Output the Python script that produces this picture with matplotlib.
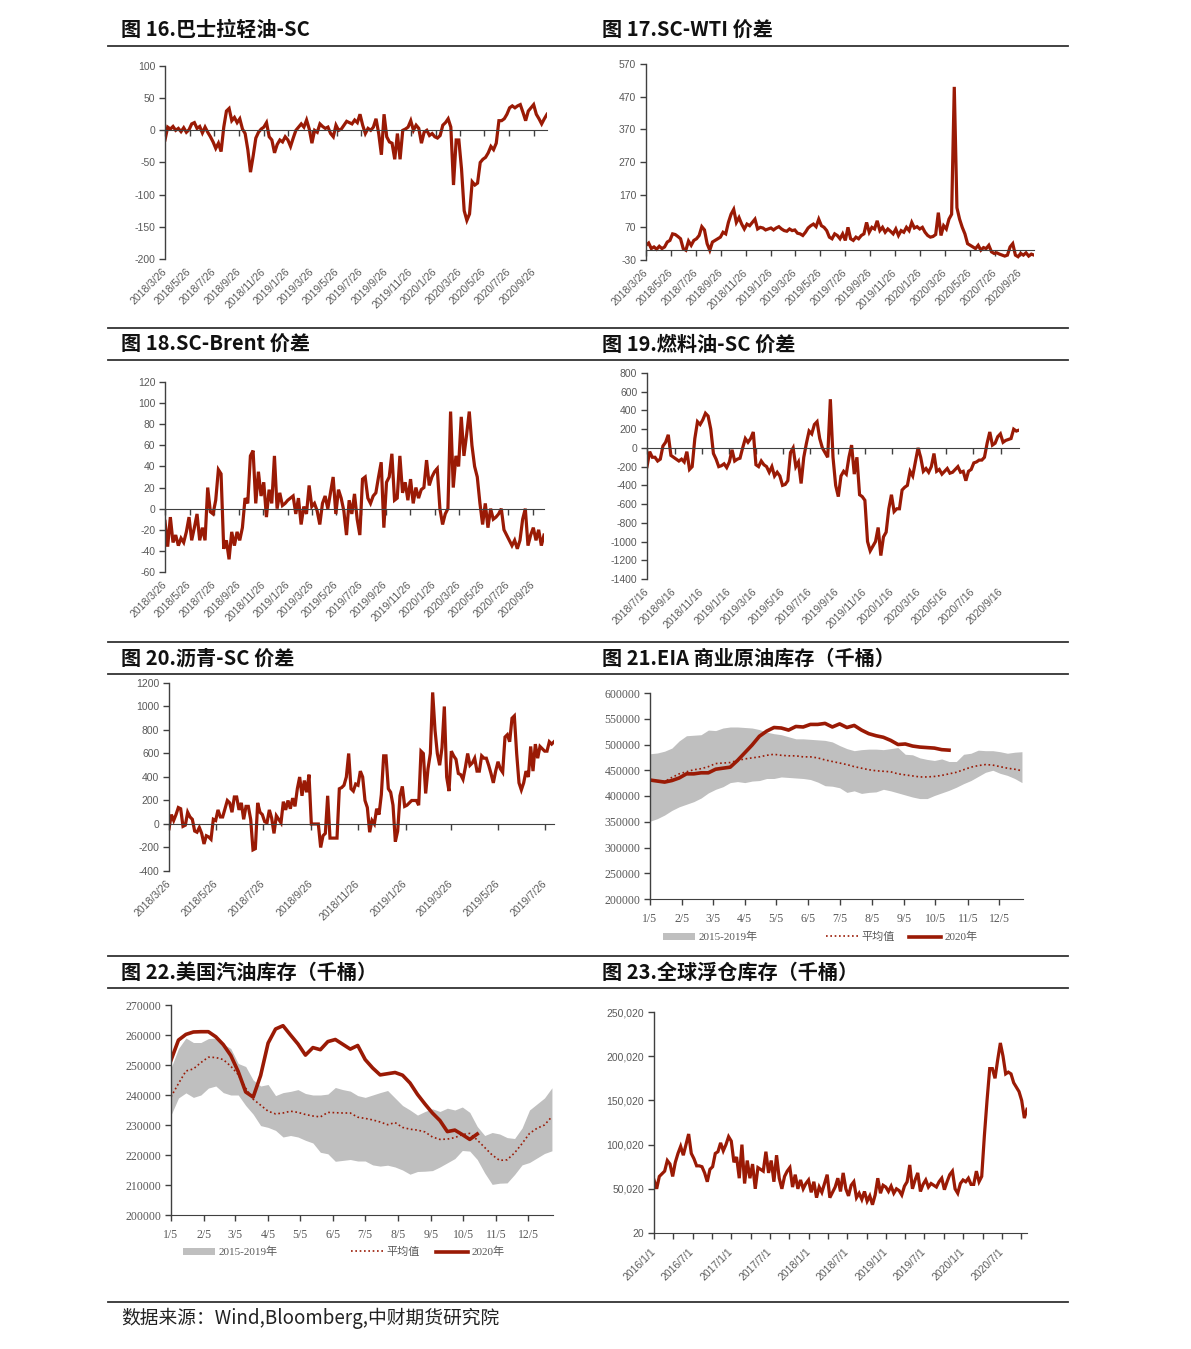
import numpy as np
import matplotlib
matplotlib.use('Agg')
import matplotlib.pyplot as plt
from matplotlib.lines import Line2D
from matplotlib.patches import Patch
from matplotlib.ticker import FuncFormatter
from datetime import datetime

W, H = 1191, 1349
RED = '#9A1A05'
GRAYBAND = '#BFBFBF'
AXC = '#404040'
LBC = '#595959'
SANS = ['Liberation Sans', 'Noto Sans CJK SC']
SERIF = ['Liberation Serif', 'Noto Sans CJK SC']
CJK = ['Noto Sans CJK SC', 'DejaVu Sans']
plt.rcParams['font.family'] = SANS
plt.rcParams['axes.unicode_minus'] = False

# ---------------- data ----------------
titles = ['图 16.巴士拉轻油-SC', '图 17.SC-WTI 价差', '图 18.SC-Brent 价差', '图 19.燃料油-SC 价差',
          '图 20.沥青-SC 价差', '图 21.EIA 商业原油库存（千桶）', '图 22.美国汽油库存（千桶）',
          '图 23.全球浮仓库存（千桶）']
source_note = '数据来源：Wind,Bloomberg,中财期货研究院'

labels_2018_03 = ['2018/3/26', '2018/5/26', '2018/7/26', '2018/9/26', '2018/11/26', '2019/1/26',
                  '2019/3/26', '2019/5/26', '2019/7/26', '2019/9/26', '2019/11/26', '2020/1/26',
                  '2020/3/26', '2020/5/26', '2020/7/26', '2020/9/26']
labels_2018_07 = ['2018/7/16', '2018/9/16', '2018/11/16', '2019/1/16', '2019/3/16', '2019/5/16',
                  '2019/7/16', '2019/9/16', '2019/11/16', '2020/1/16', '2020/3/16', '2020/5/16',
                  '2020/7/16', '2020/9/16']
labels_bitumen = ['2018/3/26', '2018/5/26', '2018/7/26', '2018/9/26', '2018/11/26', '2019/1/26',
                  '2019/3/26', '2019/5/26', '2019/7/26']
labels_float = ['2016/1/1', '2016/7/1', '2017/1/1', '2017/7/1', '2018/1/1', '2018/7/1',
                '2019/1/1', '2019/7/1', '2020/1/1', '2020/7/1']
minor_float = ['2016/4/1', '2016/10/1', '2017/4/1', '2017/10/1', '2018/4/1', '2018/10/1',
               '2019/4/1', '2019/10/1', '2020/4/1', '2020/10/1']
month_labels = ['1/5', '2/5', '3/5', '4/5', '5/5', '6/5', '7/5', '8/5', '9/5', '10/5', '11/5', '12/5']
legend_labels = ['2015-2019年', '平均值', '2020年']

basra_sc = [-15, 5, 2, 6, 0, 3, -2, 4, -3, 1, 10, 12, 3, 6, -4, 5, -3, -10, -18, -28, -20, -33, 5, 30,
            34, 15, 20, 12, 18, 2, -5, -30, -65, -40, -12, -3, 2, 5, 12, -10, -15, -35, -22, -15, -18,
            -10, -15, -25, -12, 0, 5, 10, 5, 16, 2, -20, 0, -3, 10, 6, 3, 5, -5, -10, 8, 0, 2, 8, 14,
            12, 10, 16, 12, 25, 8, -5, 3, 0, 5, 18, -5, -38, 25, -10, -18, -20, -45, -5, -45, 0, 2, 5,
            15, 0, 8, 3, -20, -3, 0, -8, -5, -10, -12, -8, 8, 12, 18, 5, -85, -15, -15, -60, -125,
            -140, -130, -80, -85, -82, -50, -45, -42, -35, -25, -30, -20, 15, 15, 18, 25, 35, 38, 35,
            38, 40, 28, 15, 30, 35, 40, 25, 18, 10, 18, 25]
sc_wti = [15, 22, 5, 10, 3, 12, 5, 10, 25, 30, 50, 48, 42, 35, 5, 0, 28, 15, 30, 35, 45, 72, 62, 20, 0,
          25, 30, 35, 40, 55, 50, 85, 110, 125, 85, 100, 80, 65, 80, 75, 85, 95, 65, 70, 68, 62, 65, 68,
          62, 68, 72, 65, 60, 58, 65, 60, 62, 52, 50, 45, 55, 68, 75, 80, 72, 95, 75, 70, 60, 40, 35, 50,
          45, 35, 50, 30, 70, 35, 30, 40, 35, 45, 50, 85, 55, 70, 65, 90, 60, 70, 55, 65, 58, 50, 65, 45,
          60, 55, 70, 60, 85, 68, 72, 65, 70, 55, 45, 40, 42, 48, 115, 45, 75, 65, 95, 110, 500, 130, 95,
          70, 50, 20, 15, 10, 5, 15, 0, 8, 5, 15, -5, -10, -8, -12, -15, -18, -15, 10, 20, -15, -20, -10,
          -15, -8, -18, -12, -15]
sc_brent = [-12, -36, -8, -32, -25, -35, -28, -32, -22, -8, -30, -18, -5, -30, -18, -30, 20, -3, -5, 8,
            37, 33, -38, -30, -48, -22, -35, -22, -30, -18, 10, 5, 50, 55, 5, 35, 12, 25, -8, 18, 5, 50,
            0, 15, 3, 5, 8, 10, 12, -5, 10, -15, 2, -5, 22, 2, 5, -2, -15, 5, 12, 0, 15, 30, -5, 18, 10,
            -2, -25, 8, -5, 14, -10, -25, 28, 30, 10, 5, 12, 15, 30, 44, -18, 25, 30, 52, 8, 10, 50, 15,
            25, 8, 28, 5, 20, 10, 18, 20, 46, 22, 30, 35, 38, 0, -15, -5, 0, 92, 20, 50, 40, 87, 50, 70,
            92, 60, 40, 30, 5, -15, 5, -18, 0, -10, -8, -5, 0, -20, -25, -30, -35, -30, -38, -30, -10,
            0, -35, -25, -18, -30, -20, -35, -25]
fo_sc = [-200, -40, -100, -100, -140, -120, 20, 60, 140, -80, -100, -120, -140, -120, -150, -40, -230,
         -200, 100, 280, 250, 300, 370, 340, 200, -60, -120, -200, -190, -170, -210, -150, -20, -140,
         -120, -110, 0, 100, 60, 100, 170, -180, -200, -140, -180, -200, -260, -200, -300, -260, -300,
         -400, -390, -350, -50, 0, -200, -150, -380, -100, 50, 180, 150, 250, 280, 100, 0, -50, -100,
         520, -100, -400, -520, -300, -250, -280, -100, 30, -280, -100, -500, -520, -560, -1000, -1100,
         -1050, -1000, -850, -1150, -950, -900, -650, -500, -680, -650, -650, -450, -420, -400, -250,
         -300, -150, 0, -100, -250, -220, -260, -200, -60, -250, -230, -280, -250, -220, -270, -260,
         -230, -200, -260, -250, -350, -250, -230, -160, -150, -130, -130, -100, 50, 170, 30, 50, 120,
         150, 60, 80, 90, 100, 200, 180, 190]
bit_sc = [-40, 80, 30, 80, 140, 130, -20, -10, 100, 60, 40, -60, -70, -30, -80, -170, -100, -110, -130,
          40, 30, 120, 60, 60, 130, 200, 180, 100, 230, 230, 120, 180, 40, 150, 150, 40, -220, -210, 180,
          100, 80, 20, 10, 120, 50, -80, 70, 40, 10, 190, 120, 200, 130, 220, 150, 300, 400, 240, 370,
          270, 420, 0, 0, 0, 0, -200, -100, -80, 240, -120, -120, -120, -120, 300, 310, 330, 400, 600,
          300, 280, 340, 330, 450, 400, 200, 140, -70, 30, 0, 130, 80, 250, 580, 580, 300, 270, 160,
          -150, -60, 240, 320, 150, 160, 180, 200, 200, 200, 160, 620, 600, 260, 470, 600, 1120, 800,
          600, 500, 650, 1000, 400, 280, 620, 580, 550, 430, 420, 380, 480, 600, 500, 520, 560, 450, 450,
          580, 560, 560, 500, 430, 350, 450, 530, 470, 440, 740, 760, 700, 900, 920, 600, 350, 290, 350,
          450, 400, 660, 450, 680, 560, 660, 640, 620, 620, 700, 680, 700]
eia_upper = [482000, 483500, 487000, 493000, 507000, 517000, 518000, 519000, 528000, 527000, 532000,
             534000, 534000, 533000, 532000, 529000, 524000, 521000, 519000, 515000, 511000, 511000,
             510000, 509000, 508000, 505000, 498000, 492000, 488000, 490000, 491000, 491000, 490000,
             492000, 494000, 481000, 480000, 474000, 471000, 469000, 472000, 467000, 467000, 481000,
             483000, 489000, 488000, 488000, 486000, 483000, 485000, 486000]
eia_lower = [351000, 356000, 363000, 372000, 379000, 384000, 389000, 396000, 406000, 413000, 418000,
             426000, 428000, 426000, 429000, 430000, 434000, 434000, 437000, 436000, 435000, 434000,
             432000, 427000, 420000, 419000, 416000, 407000, 410000, 405000, 407000, 408000, 413000,
             410000, 406000, 402000, 398000, 395000, 395000, 401000, 406000, 411000, 417000, 424000,
             430000, 438000, 446000, 450000, 444000, 440000, 434000, 426000]
eia_avg = [431000, 430000, 428000, 436000, 443000, 447000, 451000, 453000, 457000, 463000, 464000,
           465000, 469000, 472000, 474000, 476000, 479000, 481000, 479000, 478000, 478000, 476000,
           476000, 474000, 470000, 467000, 464000, 461000, 457000, 454000, 451000, 449000, 448000,
           447000, 443000, 441000, 439000, 437000, 437000, 438000, 440000, 443000, 446000, 451000,
           456000, 459000, 461000, 460000, 457000, 454000, 452000, 449000]
eia_2020 = [431000, 429000, 427000, 430000, 435000, 443000, 443000, 445000, 445000, 452000, 454000,
            456000, 469000, 484000, 499000, 516000, 526000, 533000, 532000, 528000, 535000, 534000,
            539000, 539000, 541000, 534000, 540000, 533000, 537000, 528000, 521000, 517000, 514000,
            508000, 500000, 501000, 497000, 495000, 494000, 493000, 490000, 489000]
gas_upper = [249000, 255500, 259000, 257500, 257500, 258800, 259000, 257000, 255500, 250500, 249500,
             245000, 243000, 243500, 239800, 240800, 241200, 241800, 240500, 240000, 240000, 240300,
             242500, 241800, 241300, 239800, 239200, 240000, 240800, 241500, 239000, 236500, 235000,
             233300, 234500, 235400, 234500, 235600, 235000, 236000, 234200, 229500, 226500, 227500,
             227000, 225800, 225500, 229000, 235000, 237000, 239000, 242400]
gas_lower = [233300, 239000, 240700, 239200, 240000, 242300, 243000, 240800, 240000, 240000, 236500,
             233600, 229800, 229200, 228200, 226000, 226500, 226000, 224900, 224000, 220900, 220400,
             217900, 218200, 218500, 218000, 218000, 216700, 216300, 216600, 216000, 215000, 213600,
             214500, 214600, 214800, 216000, 217400, 218800, 221500, 221300, 218500, 214000, 210200,
             210600, 210700, 213500, 216700, 217500, 219000, 220500, 221400]
gas_avg = [239400, 243800, 248000, 248700, 250800, 252600, 252500, 251800, 249600, 246800, 242300,
           238600, 236600, 234600, 233700, 234000, 234600, 234200, 233500, 233000, 232700, 234200,
           234100, 234000, 234000, 232600, 232200, 231700, 231000, 230100, 230800, 229200, 228600,
           228300, 227700, 226000, 225200, 225300, 225800, 226800, 227200, 225000, 222500, 220000,
           218200, 218400, 220700, 223800, 227200, 228900, 230000, 232800]
gas_2020 = [251600, 258300, 260200, 261000, 261100, 261100, 259400, 256800, 253200, 247800, 241000,
            239300, 246500, 257300, 262000, 263100, 260000, 257000, 253300, 255800, 255100, 257800,
            258500, 256900, 255300, 256500, 251800, 249000, 246700, 247100, 247500, 246600, 244000,
            240200, 237000, 234000, 231500, 227800, 228300, 226800, 225200, 227000]
float_storage = [60000, 50000, 64000, 67000, 70000, 82000, 78000, 64000, 80000, 90000, 98000, 88000,
                 100000, 112000, 90000, 84000, 76000, 76000, 75000, 68000, 58000, 72000, 75000, 90000,
                 92000, 102000, 93000, 100000, 109000, 104000, 80000, 86000, 62000, 100000, 56000,
                 82000, 62000, 78000, 50000, 74000, 72000, 70000, 92000, 68000, 82000, 58000, 88000,
                 62000, 50000, 64000, 70000, 74000, 52000, 66000, 50000, 60000, 50000, 56000, 60000,
                 46000, 58000, 40000, 52000, 46000, 56000, 66000, 40000, 46000, 52000, 62000, 47000,
                 68000, 50000, 42000, 54000, 58000, 40000, 45000, 38000, 47000, 36000, 42000, 32000,
                 43000, 62000, 45000, 54000, 52000, 47000, 53000, 45000, 50000, 48000, 43000, 53000,
                 58000, 77000, 50000, 60000, 68000, 47000, 55000, 60000, 52000, 56000, 54000, 52000,
                 58000, 62000, 49000, 58000, 66000, 70000, 50000, 45000, 56000, 60000, 58000, 62000,
                 55000, 55000, 70000, 58000, 64000, 110000, 150000, 186000, 186000, 175000, 196000,
                 215000, 200000, 180000, 182000, 180000, 170000, 165000, 160000, 150000, 130000, 140000]

# date spans of the daily series (first and last observation)
span_basra = ('2018/3/26', '2020/10/28')
span_wti = ('2018/3/26', '2020/10/30')
span_brent = ('2018/3/26', '2020/10/24')
span_fo = ('2018/7/16', '2020/10/26')
span_bit = ('2018/3/26', '2019/8/6')
span_float = ('2016/1/1', '2020/10/28')

# ---------------- helpers ----------------
fig = plt.figure(figsize=(W / 100, H / 100), dpi=100)


def pdate(s):
    return datetime.strptime(s, '%Y/%m/%d')


def ax_box(l, r, t, b):
    return fig.add_axes([l / W, 1 - b / H, (r - l) / W, (b - t) / H])


def style_left(ax, yt, fmt=None, family=SANS, size=7.5):
    for s in ['top', 'right']:
        ax.spines[s].set_visible(False)
    ax.spines['left'].set_color(AXC)
    ax.spines['left'].set_linewidth(1.0)
    ax.set_yticks(yt)
    if fmt is not None:
        ax.yaxis.set_major_formatter(FuncFormatter(fmt))
    ax.tick_params(axis='y', direction='out', length=4, width=1, color=AXC,
                   labelcolor=LBC, labelsize=size, pad=3)
    for t in ax.get_yticklabels():
        t.set_fontfamily(family)


def daily_panel(box, values, span, ylim, yt, labels):
    ax = ax_box(*box)
    d0, d1 = pdate(span[0]), pdate(span[1])
    total = (d1 - d0).days
    x = np.linspace(0, total, len(values))
    ax.plot(x, values, color=RED, lw=2.3, solid_joinstyle='miter')
    ax.set_xlim(0, total)
    ax.set_ylim(*ylim)
    style_left(ax, yt)
    ax.spines['bottom'].set_position(('data', 0))
    ax.spines['bottom'].set_color(AXC)
    ticks = [(pdate(l) - d0).days for l in labels]
    ax.set_xticks(ticks)
    ax.tick_params(axis='x', direction='out', length=4, width=1, color=AXC, labelbottom=False)
    sec = ax.secondary_xaxis('bottom')
    sec.set_xticks(ticks)
    sec.set_xticklabels(labels, rotation=45, ha='right', rotation_mode='anchor',
                        fontsize=7.5, color=LBC, va='center')
    sec.tick_params(axis='x', length=0, pad=8)
    sec.spines['bottom'].set_visible(False)
    return ax


def seasonal_panel(box, upper, lower, avg, cur, ylim, yt, legend_y, legend_x):
    ax = ax_box(*box)
    days_up = 7 * np.arange(len(upper))
    days_cur = 7 * np.arange(len(cur))
    ax.fill_between(days_up, lower, upper, color=GRAYBAND, lw=0)
    ax.plot(days_up, avg, color=RED, lw=1.2, ls=(0, (1, 1.6)))
    ax.plot(days_cur, cur, color=RED, lw=2.6, solid_joinstyle='round')
    ax.set_xlim(0, 358)
    ax.set_ylim(*ylim)
    style_left(ax, yt, family=SERIF, size=8.5)
    ax.spines['bottom'].set_color(AXC)
    ref = pdate('2020/1/5')
    ticks = [(datetime.strptime('2020/' + m, '%Y/%m/%d') - ref).days for m in month_labels]
    ax.set_xticks(ticks)
    ax.set_xticklabels(month_labels, fontsize=8.5, color=LBC, fontfamily=SERIF)
    ax.tick_params(axis='x', direction='out', length=4, width=1, color=AXC, pad=6)
    handles = [Patch(facecolor=GRAYBAND, edgecolor='none'),
               Line2D([], [], color=RED, lw=1.2, ls=(0, (1, 1.6))),
               Line2D([], [], color=RED, lw=2.6)]
    for h, lab, lx in zip(handles, legend_labels, legend_x):
        lg = fig.legend(handles=[h], labels=[lab], loc='center left',
                        bbox_to_anchor=(lx / W, 1 - legend_y / H), frameon=False,
                        handlelength=2.9, handleheight=0.55, handletextpad=0.3, borderpad=0,
                        borderaxespad=0, prop={'family': SERIF, 'size': 8})
        for t in lg.get_texts():
            t.set_color(LBC)
    return ax


# ---------------- titles and rules ----------------
title_pos = [(121, 30), (602, 30), (121, 344), (602, 344), (121, 658), (602, 658), (121, 972), (602, 972)]
for (tx, ty), tt in zip(title_pos, titles):
    fig.text(tx / W, 1 - ty / H, tt, ha='left', va='center', fontsize=14.5,
             fontweight='bold', fontfamily=CJK, color='#111111')
fig.text(121 / W, 1 - 1318 / H, source_note, ha='left', va='center', fontsize=13.5,
         fontfamily=CJK, color='#222222')
for ry in [46, 328, 360, 642, 674, 956, 988, 1302]:
    fig.add_artist(Line2D([108 / W, 1068 / W], [1 - ry / H, 1 - ry / H], color='#333333', lw=1.3))

# ---------------- panels ----------------
daily_panel((165, 547, 66, 259), basra_sc, span_basra, (-200, 100), np.arange(-200, 101, 50), labels_2018_03)
daily_panel((646, 1034, 64, 260), sc_wti, span_wti, (-30, 570), np.arange(-30, 571, 100), labels_2018_03)
daily_panel((165, 544, 382, 572), sc_brent, span_brent, (-60, 120), np.arange(-60, 121, 20), labels_2018_03)
daily_panel((647, 1019, 373, 579), fo_sc, span_fo, (-1400, 800), np.arange(-1400, 801, 200), labels_2018_07)
daily_panel((169, 554, 683, 871), bit_sc, span_bit, (-400, 1200), np.arange(-400, 1201, 200), labels_bitumen)

seasonal_panel((650, 1023, 693, 899), eia_upper, eia_lower, eia_avg, eia_2020, (200000, 600000),
               np.arange(200000, 600001, 50000), 937, (663, 826, 909))
seasonal_panel((171, 553, 1005, 1215), gas_upper, gas_lower, gas_avg, gas_2020, (200000, 270000),
               np.arange(200000, 270001, 10000), 1252, (183, 351, 436))

# floating storage
ax = ax_box(654, 1027, 1012, 1233)
d0, d1 = pdate(span_float[0]), pdate(span_float[1])
total = (d1 - d0).days
x = np.linspace(0, total, len(float_storage))
ax.plot(x, float_storage, color=RED, lw=2.3, solid_joinstyle='miter')
ax.set_xlim(0, total)
ax.set_ylim(20, 250020)
style_left(ax, np.arange(20, 250021, 50000), fmt=lambda v, p: f'{v:,.0f}')
ax.spines['bottom'].set_color(AXC)
ax.set_xticks([(pdate(l) - d0).days for l in labels_float])
ax.set_xticks([(pdate(l) - d0).days for l in minor_float], minor=True)
ax.set_xticklabels(labels_float, rotation=45, ha='right', rotation_mode='anchor', fontsize=7.5,
                   color=LBC, va='center')
ax.tick_params(axis='x', which='both', direction='out', length=4, width=1, color=AXC, pad=8)

fig.savefig('out.png', dpi=100)
